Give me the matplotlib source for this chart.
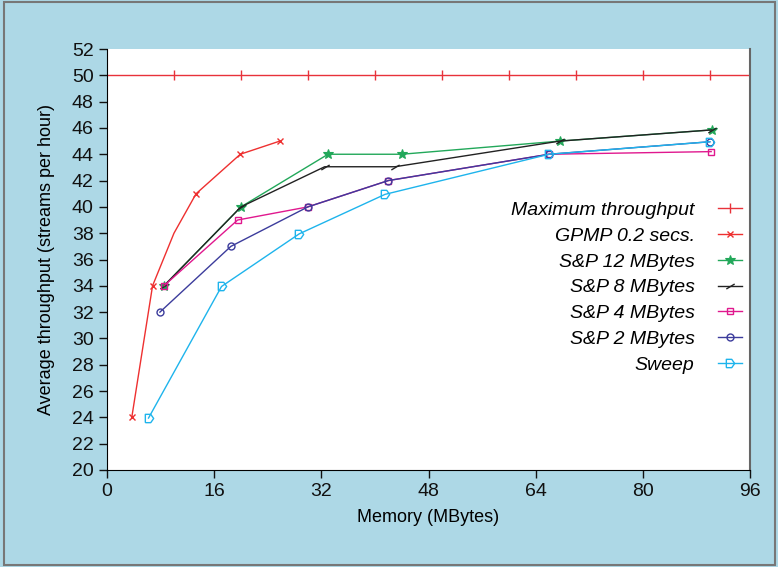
import matplotlib.pyplot as plt
from matplotlib.patches import Rectangle

plt.rcParams['font.family'] = ['Liberation Sans Narrow', 'Liberation Sans', 'DejaVu Sans']

# maximum throughput reference line
max_x = [0, 10, 20, 30, 40, 50, 60, 70, 80, 90, 100]
max_y = [50] * len(max_x)

gpmp_x = [3.7, 6.8, 10.0, 13.3, 19.9, 25.8]
gpmp_y = [24, 34, 38, 41, 44, 45]

sp12_x = [8.5, 20.0, 33.0, 44.0, 67.6, 90.3]
sp12_y = [34, 40, 44, 44, 45, 45.85]

sp8_x = [8.5, 20.0, 32.5, 43.0, 67.6, 90.3]
sp8_y = [34, 40, 43.05, 43.05, 45, 45.85]

sp4_x = [8.5, 19.5, 30.0, 42.0, 66.0, 90.2]
sp4_y = [34, 39, 40, 42, 44, 44.2]

sp2_x = [7.9, 18.5, 30.0, 42.0, 66.0, 90.0]
sp2_y = [32, 37, 40, 42, 44, 44.95]

sweep_x = [6.2, 17.1, 28.7, 41.5, 66.0, 90.0]
sweep_y = [23.95, 33.95, 37.95, 40.95, 44, 44.95]

slash = [(-1, -0.6), (1, 0.6)]
house = [(-1, -1), (0.3, -1), (1, 0), (0.3, 1), (-1, 1), (-1, -1)]

fig = plt.figure(figsize=(7.78, 5.67), dpi=100, facecolor='#add8e6')
fig.patches.append(Rectangle((4/778, 2/567), 771/778, 563/567, transform=fig.transFigure,
                             fill=False, edgecolor='#777777', lw=1.5))
ax = fig.add_axes([107/778, 97/567, 643/778, 421/567])
ax.set_facecolor('white')

ax.plot(max_x, max_y, color='#e8323a', lw=1, marker='|', ms=7, mew=1,
        markevery=list(range(1, 10)), label='Maximum throughput')
ax.plot(gpmp_x, gpmp_y, color='#ee3030', lw=1, marker='x', ms=5, mew=1,
        markevery=[0, 1, 3, 4, 5], label='GPMP 0.2 secs.')
ax.plot(sp12_x, sp12_y, color='#22a85a', lw=1, marker='*', ms=7, mew=0.8,
        label='S&P 12 MBytes')
ax.plot(sp8_x, sp8_y, color='#222222', lw=1, marker=slash, ms=6, mew=1,
        label='S&P 8 MBytes')
ax.plot(sp4_x, sp4_y, color='#e0188e', lw=1, marker='s', ms=5, mfc='none', mew=1,
        label='S&P 4 MBytes')
ax.plot(sp2_x, sp2_y, color='#3c3c9c', lw=1, marker='o', ms=5, mfc='none', mew=1,
        label='S&P 2 MBytes')
ax.plot(sweep_x, sweep_y, color='#1eb4ec', lw=1, marker=house, ms=6, mfc='none', mew=1,
        label='Sweep')

ax.set_xlim(0, 96)
ax.set_ylim(20, 52)
ax.set_xticks(range(0, 97, 16))
ax.set_yticks(range(20, 53, 2))
ax.tick_params(labelsize=14, direction='out', length=6, width=1, colors='#111111')
ax.spines['top'].set_visible(False)
ax.spines['right'].set_color('#666666')
ax.spines['right'].set_linewidth(1.5)

ax.set_xlabel('Memory (MBytes)', fontsize=13, labelpad=6)
ax.set_ylabel('Average throughput (streams per hour)', fontsize=13, labelpad=12)

leg = ax.legend(loc='upper right', bbox_to_anchor=(0.988, 0.638), frameon=False,
                markerfirst=False, handlelength=1.25, handletextpad=1.2,
                labelspacing=0.42, borderpad=0, borderaxespad=0,
                prop={'style': 'italic', 'size': 14})

fig.savefig('out.png', dpi=100, facecolor=fig.get_facecolor())
